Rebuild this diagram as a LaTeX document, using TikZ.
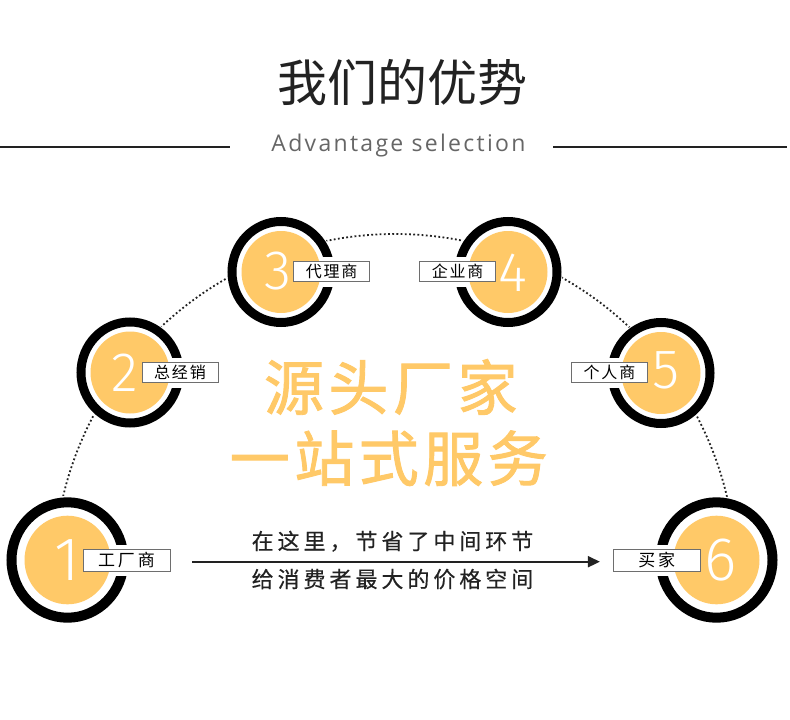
\documentclass[tikz,border=0pt]{standalone}
\usepackage{fontspec}
\setmainfont{Noto Sans CJK SC}
\newfontfamily\cjk{Noto Sans CJK SC}
\newfontfamily\cjkbox[LetterSpace=11]{Noto Sans CJK SC}
\newfontfamily\cjkboxb[LetterSpace=17]{Noto Sans CJK SC}
\newfontfamily\cjkmid[LetterSpace=18,FakeBold=0.4]{Noto Sans CJK SC}
\newfontfamily\cjkbig[LetterSpace=7.5,FakeBold=1.5]{Noto Sans CJK SC}
\newfontfamily\subfont[LetterSpace=10]{Open Sans}
\newfontfamily\digitfont{Fira Sans Light}
\usetikzlibrary{arrows.meta}
\definecolor{gold}{RGB}{255,201,104}
\definecolor{ink}{RGB}{34,34,34}
\definecolor{subgray}{RGB}{102,102,102}
\definecolor{boxgray}{RGB}{110,110,110}
\begin{document}
\begin{tikzpicture}[x=1pt,y=-1pt,
  lblsmall/.style={draw=boxgray, line width=0.8pt, fill=white, inner sep=0pt, text=black,
    minimum width=76pt, minimum height=19.5pt, font=\cjkbox\fontsize{16pt}{16pt}\selectfont},
  lblbig/.style={draw=boxgray, line width=0.8pt, fill=white, inner sep=0pt, text=black,
    minimum width=87pt, minimum height=22pt, font=\cjkboxb\fontsize{17pt}{17pt}\selectfont},
  digbig/.style={text=white, inner sep=0pt, font=\digitfont\fontsize{61.5pt}{61.5pt}\selectfont},
  digsmall/.style={text=white, inner sep=0pt, font=\digitfont\fontsize{55.5pt}{55.5pt}\selectfont},
  ringbig/.style={draw=black, line width=10pt},
  ringsmall/.style={draw=black, line width=9pt},
  dotline/.style={draw=ink, line width=1.8pt, dash pattern=on 1.8pt off 2.4pt},
  rule/.style={draw=ink, line width=2pt}
]
\useasboundingbox (0,0) rectangle (790,720);
\fill[white] (0,0) rectangle (790,720);

% title
\node[anchor=base, text=ink, inner sep=0pt, font=\cjk\fontsize{50pt}{50pt}\selectfont] (title) at (402.5,101.5) {我们的优势};
\node[anchor=base, text=subgray, inner sep=0pt, font=\subfont\fontsize{23pt}{23pt}\selectfont] (sub) at (398.5,151.7) {Advantage selection};
\draw[rule] (0,146.5) -- (230,146.5);
\draw[rule] (553,146.5) -- (787,146.5);

% dotted arc
\begin{scope}
\clip (0,0) rectangle (790,575);
\draw[dotline] (395,575) circle (341);
\end{scope}

% circle 1
\fill[white] (67.5,560) ellipse [x radius=62, y radius=64];
\draw[ringbig] (67.5,560) ellipse [x radius=56, y radius=57.7];
\fill[white] (83,544.5) rectangle (170,575.5);
\fill[gold] (67.5,560) ellipse [x radius=43, y radius=44.3];
\node[digbig] (d1) at (67.5,560) {1};
\node[lblbig] (b1) at (126.5,560) {工厂商};

% circle 2
\fill[white] (130,372.5) ellipse [x radius=54.5, y radius=56];
\draw[ringsmall] (130,372.5) ellipse [x radius=49, y radius=50.5];
\fill[white] (142,357.5) rectangle (218,387.5);
\fill[gold] (130,372.5) ellipse [x radius=39.5, y radius=41];
\node[digsmall] (d2) at (125,372.5) {2};
\node[lblsmall] (b2) at (180,372.2) {总经销};

% circle 3
\fill[white] (281,272) ellipse [x radius=54.5, y radius=56];
\draw[ringsmall] (281,272) ellipse [x radius=49, y radius=50.5];
\fill[white] (293,256.5) rectangle (370,286.5);
\fill[gold] (281,272) ellipse [x radius=39.5, y radius=41];
\node[digsmall] (d3) at (277.5,271) {3};
\node[lblsmall] (b3) at (331.7,271.3) {代理商};

% circle 4
\fill[white] (508,272) ellipse [x radius=54.5, y radius=56];
\draw[ringsmall] (508,272) ellipse [x radius=49, y radius=50.5];
\fill[white] (419,256.5) rectangle (496,286.5);
\fill[gold] (508,272) ellipse [x radius=39.5, y radius=41];
\node[digsmall] (d4) at (513,272.5) {4};
\node[lblsmall] (b4) at (457.7,271.3) {企业商};

% circle 5
\fill[white] (661,373) ellipse [x radius=54.5, y radius=56];
\draw[ringsmall] (661,373) ellipse [x radius=49, y radius=50.5];
\fill[white] (571,357.5) rectangle (648,387.5);
\fill[gold] (661,373) ellipse [x radius=39.5, y radius=41];
\node[digsmall] (d5) at (666,370) {5};
\node[lblsmall] (b5) at (609.5,372.5) {个人商};

% circle 6
\fill[white] (716.5,560) ellipse [x radius=62, y radius=64];
\draw[ringbig] (716.5,560) ellipse [x radius=56, y radius=57.7];
\fill[white] (613,544.5) rectangle (700,575.5);
\fill[gold] (716.5,560) ellipse [x radius=43, y radius=44.3];
\node[digbig] (d6) at (720.5,560) {6};
\node[lblbig] (b6) at (656.7,560) {买家};

% center slogan
\node[anchor=base, text=gold, inner sep=0pt, font=\cjkbig\fontsize{60pt}{60pt}\selectfont] (big1) at (390.75,410) {源头厂家};
\node[anchor=base, text=gold, inner sep=0pt, font=\cjkbig\fontsize{60pt}{60pt}\selectfont] (big2) at (388.75,481) {一站式服务};

% arrow and captions
\draw[line width=2pt, draw=ink, -{Triangle[length=12pt,width=11pt]}]
  ([xshift=21.6pt,yshift=-1.7pt]b1.east) -- ([xshift=-12.9pt,yshift=-1.7pt]b6.west);
\node[anchor=base, text=ink, inner sep=0pt, font=\cjkmid\fontsize{22pt}{22pt}\selectfont] (cap1) at (392.5,549.4) {在这里，节省了中间环节};
\node[anchor=base, text=ink, inner sep=0pt, font=\cjkmid\fontsize{22pt}{22pt}\selectfont] (cap2) at (392.5,587.4) {给消费者最大的价格空间};
\end{tikzpicture}
\end{document}
